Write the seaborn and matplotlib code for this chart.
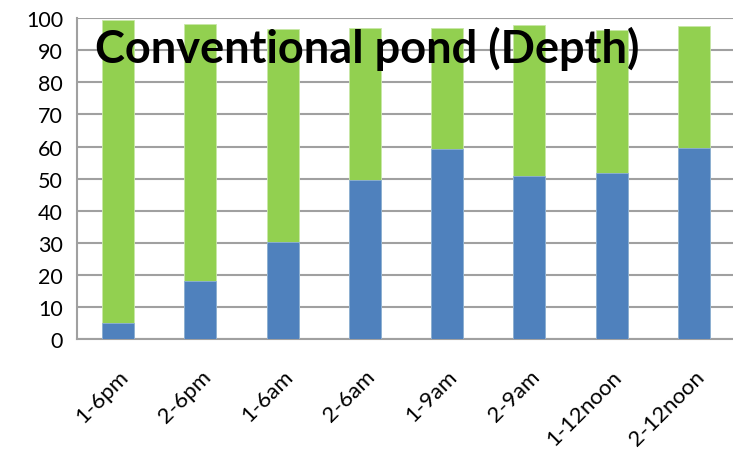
import matplotlib
matplotlib.use("Agg")
import matplotlib.pyplot as plt
import seaborn as sns
import pandas as pd
import numpy as np

# Sampling time per pond (pond number - time of day)
categories = ["1-6pm", "2-6pm", "1-6am", "2-6am", "1-9am", "2-9am", "1-12noon", "2-12noon"]
# Lower (blue) and upper (green) segment heights of each stacked bar
lower = [5.1, 18.2, 30.2, 49.6, 59.2, 50.9, 51.9, 59.6]
upper = [94.4, 79.9, 66.4, 47.2, 37.7, 46.9, 44.4, 37.8]
yticks = [0, 10, 20, 30, 40, 50, 60, 70, 80, 90, 100]

BLUE = "#4F81BD"
GREEN = "#92D050"
GRID = "#A0A0A0"

df = pd.DataFrame({"cat": categories, "lower": lower, "upper": upper})
df["total"] = df["lower"] + df["upper"]

sns.set_theme(style="white")
plt.rcParams["font.family"] = ["Lato", "DejaVu Sans"]

fig = plt.figure(figsize=(7.33, 4.52), dpi=100)
ax = fig.add_axes([77 / 733, 111.7 / 452, 658 / 733, 321.3 / 452])

sns.barplot(data=df, x="cat", y="total", color=GREEN, saturation=1, width=0.39,
            edgecolor="#C8E8A8", linewidth=0.6, ax=ax, zorder=2)
sns.barplot(data=df, x="cat", y="lower", color=BLUE, saturation=1, width=0.39,
            edgecolor="#8FB0D8", linewidth=0.6, ax=ax, zorder=3)

ax.set_xlim(-0.5, len(categories) - 0.5)
ax.set_ylim(0, 100)
ax.set_yticks(yticks)
ax.set_yticklabels([str(v) for v in yticks], fontsize=15.5, color="#000000")
ax.yaxis.grid(True, color=GRID, linewidth=1.5, zorder=0)
ax.set_axisbelow(True)

# category labels centred on bars, tick marks on category boundaries
ax.set_xticks(np.arange(len(categories)))
ax.set_xticklabels(categories, rotation=45, ha="right", rotation_mode="anchor",
                   fontsize=16, color="#000000")
ax.tick_params(axis="x", length=0, pad=19)
ax.set_xticks(np.arange(len(categories) + 1) - 0.5, minor=True)
ax.tick_params(axis="x", which="minor", length=6, width=1.5, color=GRID, direction="out")
ax.tick_params(axis="y", length=6, width=1.5, color=GRID, direction="out", pad=4)

ax.set_xlabel("")
ax.set_ylabel("")
for side in ["top", "right"]:
    ax.spines[side].set_visible(False)
for side in ["left", "bottom"]:
    ax.spines[side].set_color(GRID)
    ax.spines[side].set_linewidth(1.5)

fig.text(95 / 733, 1 - 49 / 452, "Conventional pond (Depth)", fontsize=32.5,
         fontweight="bold", color="#000000", ha="left", va="center", zorder=10)

fig.savefig("out.png", dpi=100)
